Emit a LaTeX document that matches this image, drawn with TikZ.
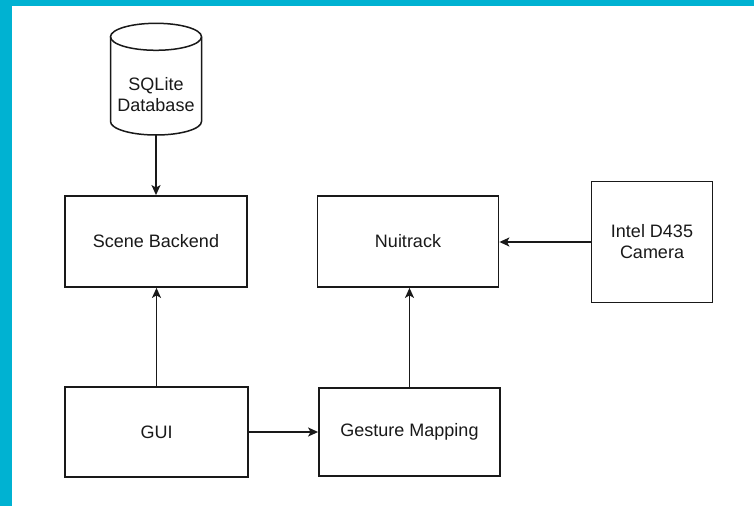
\documentclass[tikz,border=0pt]{standalone}
\usepackage{fontspec}
\setmainfont{Liberation Sans}
\usetikzlibrary{arrows.meta}
\definecolor{frame}{RGB}{0,178,210}
\definecolor{ink}{RGB}{25,25,25}
\tikzset{
  box/.style={draw=ink, line width=1.8pt, fill=white, inner sep=0pt, align=center,
    font=\fontsize{18}{21}\selectfont, text=ink},
  conn/.style={draw=ink, line width=1.5pt, -{Stealth[length=10pt,width=9pt,inset=2.5pt]}},
  txt/.style={inner sep=0pt, align=center, font=\fontsize{18}{21}\selectfont, text=ink}
}
\begin{document}
\begin{tikzpicture}[x=1pt,y=1pt]
\useasboundingbox (0,0) rectangle (754,506);
\fill[frame] (0,0) rectangle (754,506);
\fill[white] (12,0) rectangle (754,500);
% database cylinder
\node[inner sep=0pt, minimum width=91pt, minimum height=112pt] (db) at (156,427) {};
\draw[draw=ink, line width=1.5pt, fill=white] (110.5,469.2) -- (110.5,384.5)
  arc[start angle=180, end angle=360, x radius=45.5pt, y radius=13.5pt] -- (201.5,469.2);
\draw[draw=ink, line width=1.5pt] (156,469.2) ellipse[x radius=45.5pt, y radius=13.5pt];
\node[txt] (dblabel) at (156,411) {SQLite\\Database};
% boxes
\node[box, minimum width=182pt, minimum height=91pt] (scene) at (156,264.5) {Scene Backend};
\node[box, minimum width=181pt, minimum height=91pt] (nuit) at (408,264.5) {Nuitrack};
\node[box, minimum width=121pt, minimum height=121pt] (cam) at (652,264) {Intel D435\\Camera};
\node[box, minimum width=183pt, minimum height=90pt] (gui) at (156.5,74) {GUI};
\node[box, minimum width=181pt, minimum height=88pt] (gest) at (409.5,74) {Gesture Mapping};
% connectors
\draw[conn] (db.south) -- (scene.north);
\draw[conn] (gui.north) -- (gui.north |- scene.south);
\draw[conn] (gest.north) -- (gest.north |- nuit.south);
\draw[conn] (cam.west) -- (cam.west -| nuit.east);
\draw[conn] (gui.east) -- (gest.west);
\end{tikzpicture}
\end{document}
